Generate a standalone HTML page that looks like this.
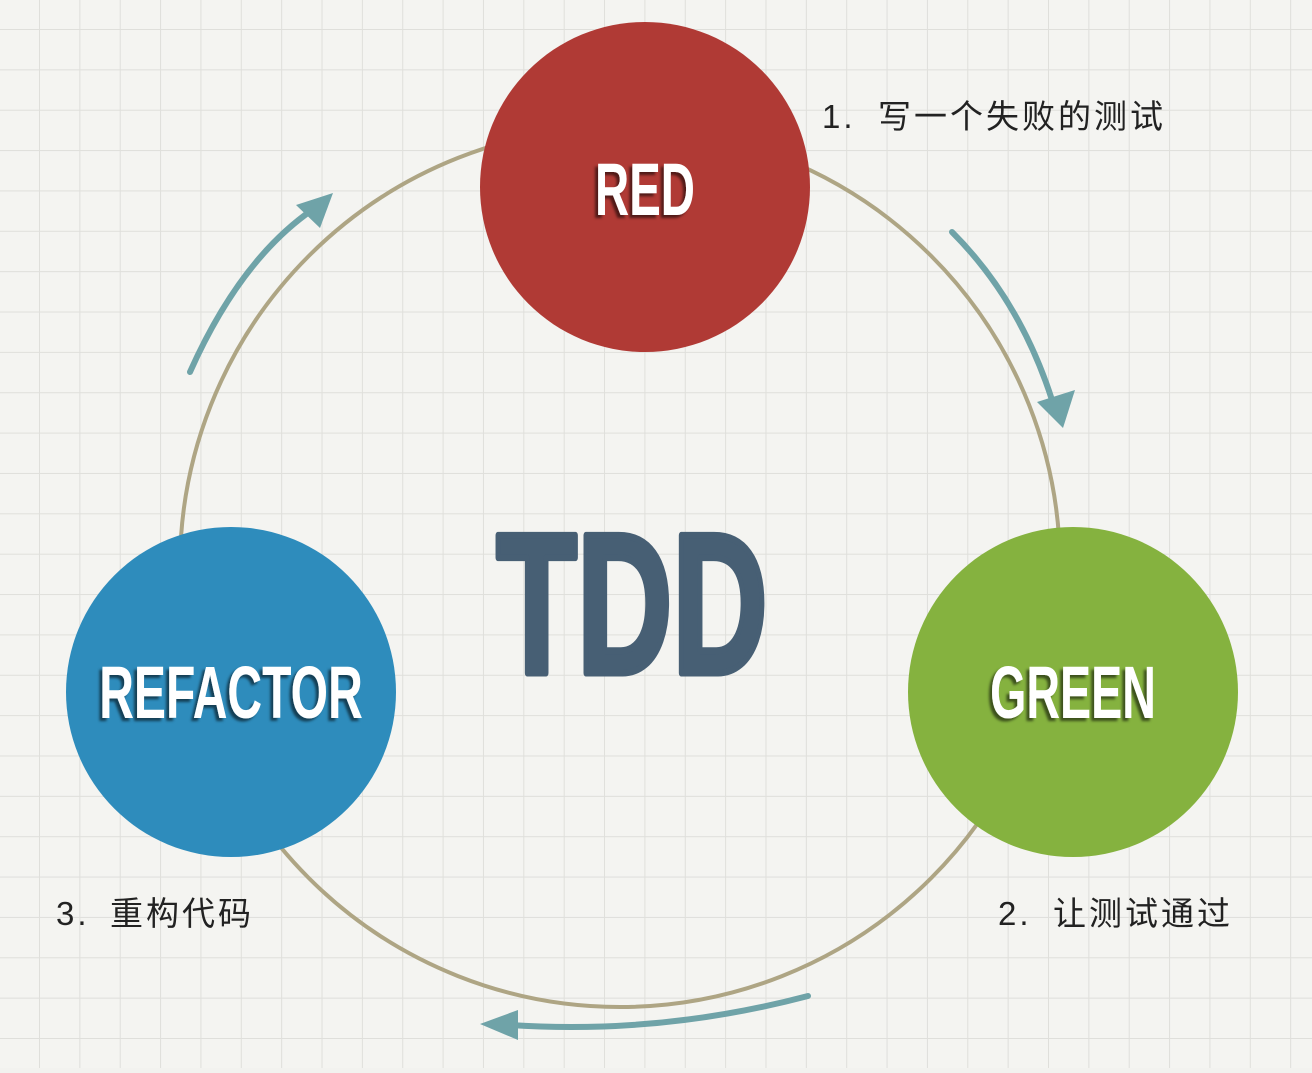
<!DOCTYPE html>
<html><head><meta charset="utf-8"><style>
html,body{margin:0;padding:0;}
body{width:1312px;height:1068px;overflow:hidden;background:#f2f2ef;}
</style></head><body>
<svg width="1312" height="1068" xmlns="http://www.w3.org/2000/svg">
<defs>
<pattern id="g" x="39" y="29" width="40.36" height="40.36" patternUnits="userSpaceOnUse">
<path d="M0 0H40.36M0 0V40.36" stroke="#dfdfdb" stroke-width="2" fill="none"/>
</pattern>
<filter id="sh"><feDropShadow dx="-3" dy="3" stdDeviation="1.2" flood-color="#000" flood-opacity="0.55"/></filter>
</defs>
<rect width="1312" height="1068" fill="#f4f4f1"/>
<rect width="1312" height="1068" fill="url(#g)"/>
<circle cx="620" cy="567" r="440" fill="none" stroke="#aea584" stroke-width="4"/>
<g stroke="#6fa3a8" stroke-width="6" fill="none" stroke-linecap="round">
<path d="M952 232 Q1020 300 1052 400"/>
<path d="M190 372 Q240 260 312 210"/>
<path d="M808 996 Q660 1035 510 1025"/>
</g>
<g fill="#6fa3a8">
<polygon points="1037,402 1075,390 1063,428"/>
<polygon points="296,205 333,193 320,228"/>
<polygon points="518,1010 518,1040 480,1024"/>
</g>
<circle cx="645" cy="187" r="165" fill="#b03a35"/>
<circle cx="1073" cy="692" r="165" fill="#85b23f"/>
<circle cx="231" cy="692" r="165" fill="#2e8cbc"/>
<g font-family="'Liberation Sans',sans-serif" font-weight="bold" fill="#fff" text-anchor="middle" filter="url(#sh)">
<text x="645" y="215" font-size="74" transform="translate(645 0) scale(0.64 1) translate(-645 0)">RED</text>
<text x="1073" y="718" font-size="74" transform="translate(1073 0) scale(0.63 1) translate(-1073 0)">GREEN</text>
<text x="231" y="718" font-size="74" transform="translate(231 0) scale(0.65 1) translate(-231 0)">REFACTOR</text>
</g>
<text x="632" y="673" font-family="'Liberation Sans',sans-serif" font-weight="bold" font-size="200" fill="#475f74" stroke="#475f74" stroke-width="7" stroke-linejoin="round" text-anchor="middle" transform="translate(632 0) scale(0.66 1) translate(-632 0)">TDD</text>
<g font-family="'Liberation Sans','Noto Sans CJK SC',sans-serif" font-size="33" fill="#222" letter-spacing="3">
<text x="822" y="128">1.</text><text x="878" y="128">写一个失败的测试</text>
<text x="998" y="925">2.</text><text x="1053" y="925">让测试通过</text>
<text x="56" y="925">3.</text><text x="110" y="925">重构代码</text>
</g>
</svg>
</body></html>
